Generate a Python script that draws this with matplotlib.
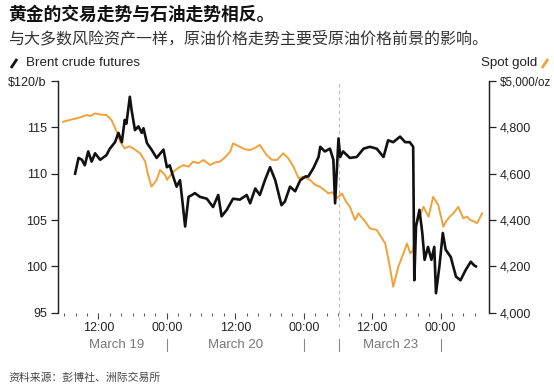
import matplotlib
matplotlib.use("Agg")
import matplotlib.pyplot as plt
from matplotlib.lines import Line2D

plt.rcParams['font.family'] = ['Liberation Sans', 'Noto Sans CJK SC']

# --- data (time axis in trading hours, weekend gap removed: 0 = March 19 00:00) ---
brent_t = [7.9, 8.5, 9.1, 9.6, 10.2, 10.8, 11.4, 12.3, 13.4, 14.0, 14.9, 15.5, 16.1, 16.6,
           16.9, 17.5, 17.8, 18.4, 19.0, 19.6, 19.9, 20.5, 21.3, 22.2, 23.4, 24.0, 24.5,
           25.1, 25.7, 26.3, 26.6, 27.2, 27.8, 28.4, 28.9, 29.8, 31.0, 32.1, 33.0, 33.6,
           34.5, 35.6, 36.8, 38.0, 38.6, 39.5, 40.3, 41.2, 42.1, 43.0, 44.1, 44.7, 45.6,
           46.5, 47.4, 48.3, 48.8, 49.7, 50.6, 50.9, 51.7, 52.6, 53.2, 53.5, 54.1, 54.4,
           54.9, 56.1, 57.3, 58.5, 59.6, 60.8, 62.0, 62.8, 63.7, 64.9, 65.8, 66.6, 67.2,
           67.4, 67.7, 68.3, 68.8, 69.2, 69.8, 70.4, 70.9, 71.2, 71.8, 72.4, 72.9, 73.8,
           74.7, 75.5, 76.4, 77.3, 77.9, 78.2]
brent = [110.0, 111.7, 111.5, 110.9, 112.4, 111.3, 112.2, 111.5, 112.0, 112.7, 113.4, 114.4,
         113.4, 115.8, 115.4, 118.3, 116.9, 114.7, 115.1, 114.4, 114.9, 113.3, 112.6, 111.7,
         112.6, 110.7, 110.9, 109.7, 108.6, 109.3, 107.7, 104.3, 107.5, 107.7, 107.9, 107.5,
         107.3, 106.4, 107.7, 105.4, 106.1, 107.3, 107.2, 107.7, 106.8, 108.4, 107.7, 109.3,
         110.7, 109.3, 106.6, 107.0, 108.6, 108.1, 109.3, 109.7, 109.7, 110.6, 111.8, 112.9,
         112.4, 112.7, 111.5, 106.8, 113.8, 111.8, 112.4, 111.7, 111.8, 112.7, 112.9, 112.7,
         111.8, 113.6, 113.4, 114.0, 113.4, 113.4, 112.9, 98.5, 104.3, 106.1, 103.6, 100.7,
         102.1, 100.7, 102.1, 97.1, 100.0, 103.6, 101.8, 101.0, 98.9, 98.5, 99.6, 100.5,
         100.1, 100.0]

gold_t = [5.8, 7.0, 8.2, 9.0, 9.9, 10.6, 11.4, 12.4, 13.4, 14.3, 15.2, 15.8, 16.6, 17.4,
          18.1, 19.3, 20.2, 20.7, 21.3, 22.2, 22.8, 23.7, 24.0, 25.1, 26.0, 26.9, 27.8,
          28.6, 29.5, 30.4, 31.6, 32.4, 33.3, 34.2, 35.1, 35.6, 36.8, 37.7, 38.6, 39.5,
          40.3, 41.5, 42.4, 43.3, 44.4, 45.3, 46.2, 47.1, 47.9, 49.1, 50.0, 50.8, 51.6,
          52.3, 53.0, 53.8, 54.7, 55.4, 56.1, 57.0, 57.6, 58.2, 58.8, 59.6, 60.8, 61.5,
          62.3, 63.1, 63.7, 64.6, 65.5, 66.1, 66.7, 67.2, 67.8, 68.4, 69.0, 69.9, 70.7,
          71.6, 72.5, 73.0, 73.6, 74.3, 75.1, 76.0, 76.6, 77.2, 77.8, 78.4, 79.3]
gold = [4824, 4832, 4839, 4845, 4853, 4849, 4860, 4855, 4853, 4831, 4781, 4738, 4709, 4718,
        4709, 4688, 4652, 4594, 4544, 4573, 4616, 4594, 4573, 4608, 4625, 4637, 4630, 4652,
        4645, 4659, 4637, 4648, 4652, 4670, 4695, 4731, 4716, 4705, 4702, 4712, 4724, 4680,
        4660, 4659, 4688, 4666, 4630, 4580, 4587, 4573, 4552, 4544, 4530, 4515, 4520, 4494,
        4515, 4480, 4457, 4400, 4429, 4410, 4393, 4364, 4357, 4330, 4299, 4199, 4112, 4199,
        4256, 4299, 4256, 4270, 4386, 4420, 4457, 4414, 4500, 4465, 4371, 4395, 4414, 4430,
        4457, 4407, 4415, 4400, 4395, 4386, 4429]

oil_ticks = [95, 100, 105, 110, 115, 120]
oil_labels = ['95', '100', '105', '110', '115', '$120/b']
gold_ticks = [4000, 4200, 4400, 4600, 4800, 5000]
gold_labels = ['4,000', '4,200', '4,400', '4,600', '4,800', '$5,000/oz']
hour_ticks = [12, 24, 36, 48, 60, 72]
hour_labels = ['12:00', '00:00', '12:00', '00:00', '12:00', '00:00']
days = ['March 19', 'March 20', 'March 23']
day_centers = [15.2, 36.0, 63.2]
day_breaks = [24, 48, 54.2, 72]
weekend_gap = 54.2

W, H = 554, 387
fig = plt.figure(figsize=(W / 100, H / 100), dpi=100)
ax = fig.add_axes([58 / W, (H - 312.7) / H, (489 - 58) / W, (312.7 - 81) / H])
ax2 = ax.twinx()

ORANGE = '#f0a23a'
DARK = '#222222'

ax2.plot(gold_t, gold, color=ORANGE, lw=1.4, zorder=2)
ax.plot(brent_t, brent, color='#111111', lw=1.9, zorder=3)
ax.set_zorder(ax2.get_zorder() + 1)
ax.patch.set_visible(False)

ax.set_xlim(4.9, 80.5)
ax.set_ylim(95, 120)
ax2.set_ylim(4000, 5000)

for a in (ax, ax2):
    a.spines['top'].set_visible(False)
    a.spines['bottom'].set_visible(False)
    a.spines['left'].set_color(DARK)
    a.spines['right'].set_color(DARK)
    a.spines['left'].set_linewidth(0.9)
    a.spines['right'].set_linewidth(0.9)

ax.set_yticks(oil_ticks)
ax.set_yticklabels(oil_labels)
ax.tick_params(axis='y', direction='out', length=5, width=0.9, color=DARK,
               pad=3, labelsize=9, labelcolor=DARK)
ax2.set_yticks(gold_ticks)
ax2.set_yticklabels(gold_labels)
ax2.tick_params(axis='y', direction='out', length=5, width=0.9, color=DARK,
                pad=3, labelsize=9, labelcolor=DARK)
# top label runs off the right edge in the original; keep it just inside
ax2.get_yticklabels()[-1].set_fontsize(8.4)

ax.set_xticks(hour_ticks)
ax.set_xticklabels(hour_labels)
ax.set_xticks([h for h in range(6, 80, 2) if h % 12 != 0], minor=True)
ax.tick_params(axis='x', which='major', direction='out', length=4, width=0.8,
               color='#444444', pad=3, labelsize=9, labelcolor=DARK)
ax.tick_params(axis='x', which='minor', direction='out', length=2, width=0.8,
               color='#666666')

# weekend gap marker
ax.plot([weekend_gap, weekend_gap], [-0.06, 1.0], transform=ax.get_xaxis_transform(),
        color='#bbbbbb', lw=0.8, ls=(0, (3, 3)), clip_on=False, zorder=1)

trans = ax.get_xaxis_transform()
for name, c in zip(days, day_centers):
    ax.text(c, -0.139, name, transform=trans, ha='center', va='center',
            fontsize=9.5, color='#777777')
for b in day_breaks:
    ax.plot([b, b], [-0.114, -0.165], transform=trans, color='#888888', lw=0.8,
            clip_on=False)

# header texts
def fy(y):
    return 1 - y / H

fig.text(8 / W, fy(15), '黄金的交易走势与石油走势相反。', fontsize=12.8,
         fontweight='bold', color='#111111', va='center', ha='left')
fig.text(8 / W, fy(39), '与大多数风险资产一样，原油价格走势主要受原油价格前景的影响。',
         fontsize=11.5, color='#333333', va='center', ha='left')

fig.text(26 / W, fy(63), 'Brent crude futures', fontsize=9.6, color=DARK,
         va='center', ha='left')
fig.add_artist(Line2D([11 / W, 17 / W], [fy(68), fy(59)], color='#111111', lw=2,
                      solid_capstyle='butt'))
fig.text(537 / W, fy(63), 'Spot gold', fontsize=9.6, color=DARK, va='center', ha='right')
fig.add_artist(Line2D([542 / W, 548 / W], [fy(68), fy(59)], color=ORANGE, lw=2,
                      solid_capstyle='butt'))

fig.text(8 / W, fy(378), '资料来源：彭博社、洲际交易所', fontsize=7.8, color='#444444',
         va='center', ha='left')

fig.savefig('out.png', dpi=100)
